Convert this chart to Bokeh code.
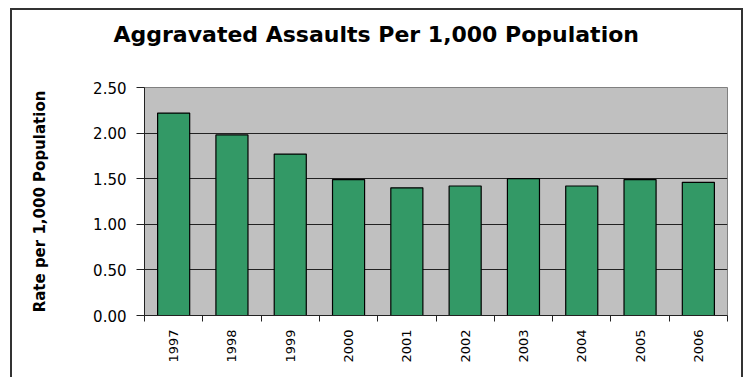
import math
from bokeh.plotting import figure
from bokeh.models import (ColumnDataSource, FixedTicker, NumeralTickFormatter, Range1d, Title)
from bokeh.embed import file_html
from bokeh.resources import INLINE

years = ["1997", "1998", "1999", "2000", "2001", "2002", "2003", "2004", "2005", "2006"]
rates = [2.22, 1.98, 1.77, 1.49, 1.40, 1.42, 1.50, 1.42, 1.49, 1.46]
y_ticks = [0.0, 0.5, 1.0, 1.5, 2.0, 2.5]

title_text = "Aggravated Assaults Per 1,000 Population"
y_label = "Rate per 1,000 Population"

pos = [i + 0.5 for i in range(len(years))]
src = ColumnDataSource(dict(x=pos, top=rates, year=years))

p = figure(width=733, height=369, output_backend="svg", toolbar_location=None,
           x_range=Range1d(0, len(years)), y_range=Range1d(0, 2.5),
           min_border_left=134, min_border_right=16, min_border_top=79, min_border_bottom=62,
           styles={"margin-left": "10px", "margin-top": "8px",
                   "box-shadow": "inset 2px 2px 0 #333333, inset -2px 0 0 #333333"})

# tiny spacer (nearest the plot area), then the real title above it
p.add_layout(Title(text=" ", text_font_size="1px", standoff=31), "above")
p.add_layout(Title(text=title_text, align="left", offset=-31, standoff=14,
                   text_font="DejaVu Sans", text_font_size="22px", text_font_style="bold",
                   text_color="black"), "above")

p.vbar(x="x", top="top", width=0.55, source=src, fill_color="#339966",
       line_color="black", line_width=1.2)

p.background_fill_color = "#C0C0C0"
p.border_fill_color = None
p.outline_line_color = "#808080"
p.outline_line_width = 1

# y axis
p.yaxis.ticker = FixedTicker(ticks=y_ticks)
p.yaxis.formatter = NumeralTickFormatter(format="0.00")
p.yaxis.major_tick_out = 8
p.yaxis.major_tick_in = 0
p.yaxis.minor_tick_out = 0
p.yaxis.minor_tick_in = 0
p.yaxis.axis_line_color = "#222222"
p.yaxis.major_tick_line_color = "#222222"
p.yaxis.major_label_text_font = "DejaVu Sans"
p.yaxis.major_label_text_font_size = "15px"
p.yaxis.major_label_text_color = "black"
p.yaxis.major_label_standoff = 10
p.yaxis.axis_label = y_label
p.yaxis.axis_label_text_font = "DejaVu Sans"
p.yaxis.axis_label_text_font_size = "15px"
p.yaxis.axis_label_text_font_style = "bold"
p.yaxis.axis_label_text_color = "black"
p.yaxis.axis_label_standoff = 41

# x axis: labels at category centres, tick marks between categories
p.xaxis.ticker = FixedTicker(ticks=pos, minor_ticks=list(range(len(years) + 1)))
p.xaxis.major_label_overrides = {v: y for v, y in zip(pos, years)}
p.xaxis.major_tick_out = 0
p.xaxis.major_tick_in = 0
p.xaxis.minor_tick_out = 6
p.xaxis.minor_tick_in = 0
p.xaxis.minor_tick_line_color = "#222222"
p.xaxis.axis_line_color = "#222222"
p.xaxis.major_label_orientation = math.pi / 2
p.xaxis.major_label_text_font = "DejaVu Sans"
p.xaxis.major_label_text_font_size = "13px"
p.xaxis.major_label_text_color = "black"
p.xaxis.major_label_standoff = 8

p.xgrid.grid_line_color = None
p.ygrid.ticker = FixedTicker(ticks=[0.5, 1.0, 1.5, 2.0])
p.ygrid.grid_line_color = "#222222"
p.ygrid.grid_line_width = 1

open("out.html", "w").write(file_html(p, INLINE))
